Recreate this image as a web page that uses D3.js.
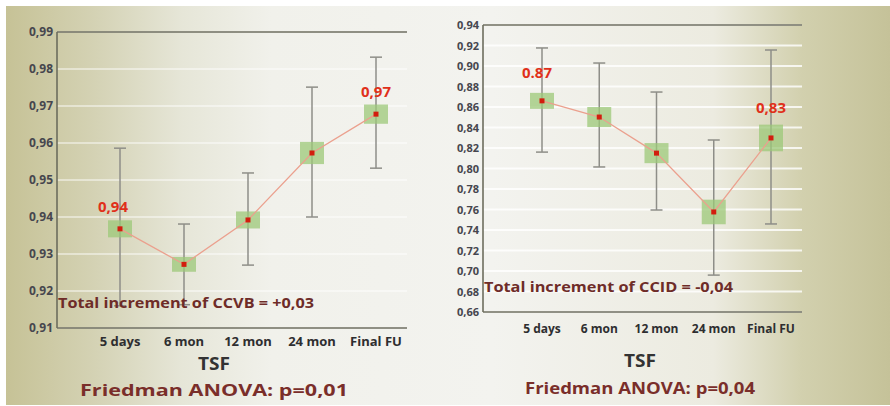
<!DOCTYPE html>
<html>
<head>
<meta charset="utf-8">
<script src="https://cdn.jsdelivr.net/npm/d3@7"></script>
<style>
  body { margin: 0; background: #fff; }
  svg { display: block; }
</style>
</head>
<body>
<script>
var categories = ["5 days", "6 mon", "12 mon", "24 mon", "Final FU"];

// left panel (CCVB)
var meanL  = [0.9368, 0.9272, 0.9392, 0.9573, 0.9678];
var upL    = [0.9586, 0.9381, 0.9519, 0.9751, 0.9832];
var lowL   = [0.9160, 0.9163, 0.9270, 0.9400, 0.9532];
var boxL   = [0.0023, 0.0020, 0.0023, 0.0030, 0.0026];
var ticksL = [0.91, 0.92, 0.93, 0.94, 0.95, 0.96, 0.97, 0.98, 0.99];
var labelL = [{i: 0, t: "0,94"}, {i: 4, t: "0,97"}];

// right panel (CCID)
var meanR  = [0.8660, 0.8502, 0.8150, 0.7576, 0.8298];
var upR    = [0.9176, 0.9029, 0.8746, 0.8278, 0.9156];
var lowR   = [0.8160, 0.8015, 0.7595, 0.6960, 0.7459];
var boxR   = [0.0078, 0.0098, 0.0098, 0.0120, 0.0130];
var ticksR = [0.66, 0.68, 0.70, 0.72, 0.74, 0.76, 0.78, 0.80, 0.82, 0.84, 0.86, 0.88, 0.90, 0.92, 0.94];
var labelR = [{i: 0, t: "0.87"}, {i: 4, t: "0,83"}];

var width = 890, height = 406;
var svg = d3.select("body").append("svg")
    .attr("width", width)
    .attr("height", height);

var defs = svg.append("defs");
var grad = defs.append("linearGradient").attr("id", "bg")
    .attr("x1", "0").attr("x2", "1").attr("y1", "0").attr("y2", "0");
[[0, "#c6c296"], [0.1, "#d4d2b4"], [0.2, "#e6e6d8"], [0.3, "#f1f1eb"], [0.55, "#f3f3ef"],
 [0.8, "#ecebe0"], [0.9, "#d2d0ae"], [1, "#c5c299"]].forEach(function(s) {
  grad.append("stop").attr("offset", s[0]).attr("stop-color", s[1]);
});

svg.append("rect")
    .attr("x", 6).attr("y", 6)
    .attr("width", width - 6).attr("height", 399)
    .attr("fill", "url(#bg)");

var font = "'Open Sans', 'DejaVu Sans', sans-serif";

function panel(cfg) {
  var x = d3.scalePoint().domain(categories).range(cfg.xr);
  var y = d3.scaleLinear().domain(cfg.yd).range([cfg.yBot, cfg.yTop]);
  var g = svg.append("g");

  // grid
  g.selectAll(".grid").data(cfg.ticks).enter().append("line")
      .attr("x1", cfg.x0).attr("x2", cfg.x1)
      .attr("y1", function(d) { return y(d); })
      .attr("y2", function(d) { return y(d); })
      .attr("stroke", "#ffffff").attr("stroke-opacity", cfg.gridOp)
      .attr("stroke-width", 2);

  // frame: top, left, bottom
  [[cfg.x0, cfg.x1, cfg.yTop, cfg.yTop], [cfg.x0, cfg.x1, cfg.yBot, cfg.yBot],
   [cfg.x0, cfg.x0, cfg.yTop, cfg.yBot]].forEach(function(l) {
    g.append("line").attr("x1", l[0]).attr("x2", l[1])
        .attr("y1", l[2]).attr("y2", l[3])
        .attr("stroke", "#6d6d5e").attr("stroke-width", 1.6);
  });

  // y tick labels
  g.selectAll(".yt").data(cfg.ticks).enter().append("text")
      .attr("x", cfg.x0 - 4)
      .attr("y", function(d) { return y(d) + 4; })
      .attr("text-anchor", "end")
      .attr("font-family", font).attr("font-weight", "bold")
      .attr("font-size", cfg.tickSize)
      .attr("fill", "#46464e")
      .text(function(d) { return d3.format(".2f")(d).replace(".", ","); });

  // category labels
  g.selectAll(".xt").data(categories).enter().append("text")
      .attr("x", function(d) { return x(d); })
      .attr("y", cfg.yBot + cfg.catDy)
      .attr("text-anchor", "middle")
      .attr("font-family", font).attr("font-weight", "bold")
      .attr("font-size", cfg.catSize)
      .attr("fill", "#2e2e30")
      .text(function(d) { return d; });

  // error bars
  var eb = g.selectAll(".eb").data(categories).enter().append("g");
  eb.append("line")
      .attr("x1", function(d) { return x(d); })
      .attr("x2", function(d) { return x(d); })
      .attr("y1", function(d, i) { return y(cfg.up[i]); })
      .attr("y2", function(d, i) { return y(cfg.low[i]); })
      .attr("stroke", "#8e8e88").attr("stroke-width", 1.5);
  [cfg.up, cfg.low].forEach(function(arr) {
    eb.append("line")
        .attr("x1", function(d) { return x(d) - 6; })
        .attr("x2", function(d) { return x(d) + 6; })
        .attr("y1", function(d, i) { return y(arr[i]); })
        .attr("y2", function(d, i) { return y(arr[i]); })
        .attr("stroke", "#8e8e88").attr("stroke-width", 1.5);
  });

  // boxes
  g.selectAll(".box").data(categories).enter().append("rect")
      .attr("x", function(d) { return x(d) - 12; })
      .attr("width", 24)
      .attr("y", function(d, i) { return y(cfg.mean[i] + cfg.box[i]); })
      .attr("height", function(d, i) { return y(cfg.mean[i] - cfg.box[i]) - y(cfg.mean[i] + cfg.box[i]); })
      .attr("fill", "#9cc878").attr("fill-opacity", 0.75);

  // mean line
  g.append("path")
      .datum(categories)
      .attr("d", d3.line()
        .x(function(d) { return x(d); })
        .y(function(d, i) { return y(cfg.mean[i]); }))
      .attr("fill", "none")
      .attr("stroke", "#eba08e").attr("stroke-width", 1.3);

  // mean points
  g.selectAll(".pt").data(categories).enter().append("rect")
      .attr("x", function(d) { return x(d) - 2.5; })
      .attr("y", function(d, i) { return y(cfg.mean[i]) - 2.5; })
      .attr("width", 5).attr("height", 5)
      .attr("fill", "#d21e0e");

  // value labels
  g.selectAll(".vl").data(cfg.labels).enter().append("text")
      .attr("x", function(d) { return x(categories[d.i]) + cfg.labDx[d.i]; })
      .attr("y", function(d) { return y(cfg.mean[d.i]) - cfg.labDy[d.i]; })
      .attr("text-anchor", "middle")
      .attr("font-family", font).attr("font-weight", "bold")
      .attr("font-size", 15)
      .attr("fill", "#e0301a")
      .text(function(d) { return d.t; });

  // annotation
  g.append("text")
      .attr("x", cfg.x0 + 1)
      .attr("y", cfg.noteY)
      .attr("font-family", font).attr("font-weight", "bold")
      .attr("font-size", 14.5)
      .attr("fill", "#6e2c28")
      .attr("textLength", cfg.noteW)
      .attr("lengthAdjust", "spacingAndGlyphs")
      .text(cfg.note);

  // titles
  g.append("text")
      .attr("x", cfg.titleX).attr("y", cfg.titleY)
      .attr("text-anchor", "middle")
      .attr("font-family", font).attr("font-weight", "bold")
      .attr("font-size", 18).attr("fill", "#333333")
      .attr("textLength", 32)
      .attr("lengthAdjust", "spacingAndGlyphs")
      .text("TSF");
  g.append("text")
      .attr("x", cfg.titleX).attr("y", cfg.subY)
      .attr("text-anchor", "middle")
      .attr("font-family", font).attr("font-weight", "bold")
      .attr("font-size", 15.5).attr("fill", "#7a2e2a")
      .attr("textLength", cfg.subW)
      .attr("lengthAdjust", "spacingAndGlyphs")
      .text(cfg.sub);
}

panel({
  x0: 57, x1: 407, yTop: 32, yBot: 328, xr: [120, 376],
  yd: [0.91, 0.99], ticks: ticksL, tickSize: 12, gridOp: 0.45,
  mean: meanL, up: upL, low: lowL, box: boxL,
  labels: labelL, labDx: [-7, 0, 0, 0, 0], labDy: [17, 0, 0, 0, 17],
  catDy: 18, catSize: 13,
  note: "Total increment of CCVB = +0,03", noteY: 308, noteW: 256,
  titleX: 214, titleY: 370, subY: 396, sub: "Friedman ANOVA: p=0,01", subW: 268
});

panel({
  x0: 483, x1: 802, yTop: 25, yBot: 312, xr: [542, 771],
  yd: [0.66, 0.94], ticks: ticksR, tickSize: 11, gridOp: 0.8,
  mean: meanR, up: upR, low: lowR, box: boxR,
  labels: labelR, labDx: [-5, 0, 0, 0, 0], labDy: [23, 0, 0, 0, 25],
  catDy: 21, catSize: 12,
  note: "Total increment of CCID = -0,04", noteY: 292, noteW: 249,
  titleX: 640, titleY: 367, subY: 394, sub: "Friedman ANOVA: p=0,04", subW: 230
});
</script>
</body>
</html>
